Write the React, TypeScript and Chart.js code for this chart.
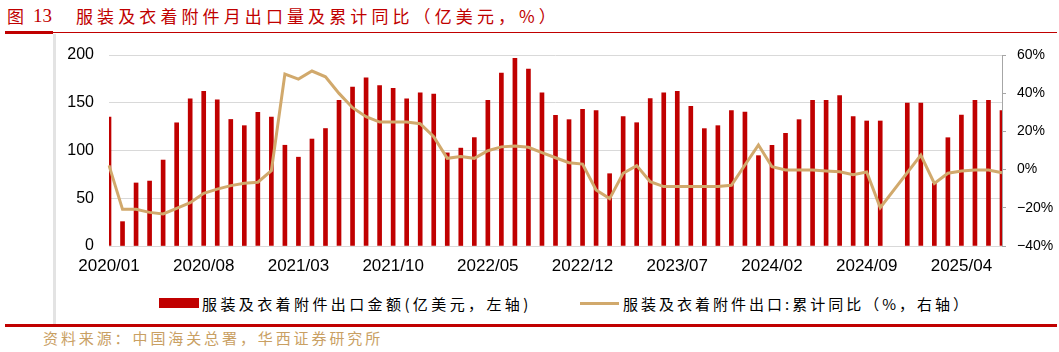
import React, { useEffect, useRef } from "react";
import { Chart, registerables } from "chart.js";

Chart.register(...registerables);

const months = [
  "2020/01","2020/02","2020/03","2020/04","2020/05","2020/06","2020/07","2020/08","2020/09","2020/10","2020/11","2020/12",
  "2021/01","2021/02","2021/03","2021/04","2021/05","2021/06","2021/07","2021/08","2021/09","2021/10","2021/11","2021/12",
  "2022/01","2022/02","2022/03","2022/04","2022/05","2022/06","2022/07","2022/08","2022/09","2022/10","2022/11","2022/12",
  "2023/01","2023/02","2023/03","2023/04","2023/05","2023/06","2023/07","2023/08","2023/09","2023/10","2023/11","2023/12",
  "2024/01","2024/02","2024/03","2024/04","2024/05","2024/06","2024/07","2024/08","2024/09","2024/10","2024/11","2024/12",
  "2025/01","2025/02","2025/03","2025/04","2025/05","2025/06","2025/07",
];

const xTickLabels = ["2020/01","2020/08","2021/03","2021/10","2022/05","2022/12","2023/07","2024/02","2024/09","2025/04"];

// 服装及衣着附件出口金额（亿美元）
const exportValues: (number | null)[] = [
  135, 25.5, 66, 68, 90, 129, 154, 162, 153, 132.5, 126, 140,
  135, 105.5, 93, 112, 123, 152.5, 166.5, 176, 168, 165, 154, 160.5,
  159, 97.5, 102.5, 113.5, 152.5, 181, 196.5, 185.3, 160.5, 136.8, 132.3, 143.1,
  141.7, 75.7, 135.4, 129.1, 154.3, 160.5, 162, 146.3, 122.9, 126, 141.7, 140.3,
  94.6, 105.4, 118, 132.3, 152.5, 152.5, 157.4, 135.4, 130.9, 130.9, null, 149.7,
  149.7, 65.6, 113.4, 137, 152.5, 152.5, 141.7,
];

// 服装及衣着附件出口：累计同比（%）
const cumulativeYoY: (number | null)[] = [
  2.2, -20.8, -20.8, -22.4, -23.2, -20.3, -17.3, -12.4, -10.2, -8.4, -7.2, -6.6,
  -0.6, 50, 47.4, 51.6, 48.6, 39.9, 32.4, 27.7, 24.9, 24.9, 24.9, 24,
  17.2, 5.9, 6.8, 5.9, 9.9, 11.9, 12.4, 11.7, 8.9, 6.2, 3.6, 2.9,
  -10.7, -15.2, -1.9, 2.1, -6.3, -8.9, -8.9, -8.9, -8.9, -8.9, -8.2, 2.4,
  12.9, 1.5, -0.2, -0.2, -0.2, -0.7, -1.1, -2.7, -1.3, -19.9, null, null,
  7.6, -7.2, -1.9, -0.7, -0.2, -0.2, -1.6,
];

const BAR_COLOR = "#C00000";
const LINE_COLOR = "#D1A96C";
const GRID_COLOR = "#D9D9D9";
const AXIS_COLOR = "#A6A6A6";
const CJK = '"Noto Sans CJK SC", "Noto Sans", sans-serif';

export default function App() {
  const canvasRef = useRef<HTMLCanvasElement | null>(null);

  useEffect(() => {
    if (!canvasRef.current) return;
    const chart = new Chart(canvasRef.current, {
      type: "bar",
      data: {
        labels: months,
        datasets: [
          {
            type: "line",
            label: "服装及衣着附件出口:累计同比（%，右轴）",
            data: cumulativeYoY,
            yAxisID: "y1",
            borderColor: LINE_COLOR,
            backgroundColor: LINE_COLOR,
            borderWidth: 3,
            pointRadius: 0,
            tension: 0,
            spanGaps: true,
            order: 0,
          } as any,
          {
            type: "bar",
            label: "服装及衣着附件出口金额(亿美元，左轴)",
            data: exportValues,
            yAxisID: "y",
            backgroundColor: BAR_COLOR,
            barThickness: 4,
            order: 1,
          },
        ],
      },
      options: {
        responsive: false,
        animation: false,
        layout: { padding: { top: 15, left: 0, right: 0, bottom: 0 } },
        plugins: { legend: { display: false }, tooltip: { enabled: false } },
        scales: {
          x: {
            offset: false,
            grid: { display: false, drawTicks: false },
            border: { display: true, color: GRID_COLOR },
            ticks: {
              autoSkip: false,
              maxRotation: 0,
              minRotation: 0,
              padding: 10,
              color: "#000",
              font: { size: 17, family: '"Liberation Sans", Arial, sans-serif' },
              callback: function (this: any, value: any) {
                const lab = this.getLabelForValue(value);
                return xTickLabels.includes(lab) ? lab : "";
              },
            },
            afterFit: (s: any) => {
              s.height = 34;
            },
          },
          y: {
            position: "left",
            min: 0,
            max: 200,
            ticks: {
              stepSize: 50,
              padding: 15,
              color: "#000",
              font: { size: 16, family: '"Liberation Sans", Arial, sans-serif' },
            },
            grid: { color: GRID_COLOR, lineWidth: 1, drawTicks: false },
            border: { display: false },
            afterFit: (s: any) => {
              s.width = 109;
              s.paddingTop = 0;
              s.paddingBottom = 0;
            },
          },
          y1: {
            position: "right",
            min: -40,
            max: 60,
            ticks: {
              stepSize: 20,
              padding: 11,
              color: "#000",
              font: { size: 14, family: '"Liberation Sans", Arial, sans-serif' },
              callback: (v: any) => (v < 0 ? "\u2212" + Math.abs(v) : String(v)) + "%",
            },
            grid: { drawOnChartArea: false, drawTicks: true, tickLength: 4, color: AXIS_COLOR },
            border: { display: true, color: AXIS_COLOR },
            afterFit: (s: any) => {
              s.width = 57;
              s.paddingTop = 0;
              s.paddingBottom = 0;
            },
          },
        },
      },
    });
    return () => chart.destroy();
  }, []);

  return (
    <div
      style={{
        position: "absolute",
        left: 0,
        top: 0,
        width: 1059,
        height: 352,
        overflow: "hidden",
        background: "#fff",
      }}
    >
      {/* title */}
      <div style={{ position: "absolute", left: 7, top: 5, height: 22, lineHeight: "22px", fontSize: 17, color: BAR_COLOR, fontFamily: CJK }}>
        图
      </div>
      <div style={{ position: "absolute", left: 33, top: 5, height: 22, lineHeight: "22px", fontSize: 19, color: BAR_COLOR, fontFamily: '"Liberation Serif", serif' }}>
        13
      </div>
      <div style={{ position: "absolute", left: 76, top: 5, height: 22, lineHeight: "22px", fontSize: 17, letterSpacing: 4.1, color: BAR_COLOR, fontFamily: CJK, whiteSpace: "nowrap" }}>
        服装及衣着附件月出口量及累计同比（亿美元，%）
      </div>
      <div style={{ position: "absolute", left: 5, top: 31, width: 48, height: 3, background: BAR_COLOR }} />
      <div style={{ position: "absolute", left: 53, top: 32, width: 1004, height: 1, background: BAR_COLOR }} />
      <div style={{ position: "absolute", left: 53, top: 34, width: 3, height: 290, background: "#E3E3E3" }} />

      <canvas ref={canvasRef} width={1059} height={240} style={{ position: "absolute", left: 0, top: 40, width: 1059, height: 240 }} />

      {/* legend */}
      <div style={{ position: "absolute", left: 159, top: 298, width: 40, height: 10, background: BAR_COLOR }} />
      <div style={{ position: "absolute", left: 202, top: 293, height: 21, lineHeight: "21px", fontSize: 15, letterSpacing: 3.4, color: "#000", fontFamily: CJK, whiteSpace: "nowrap" }}>
        服装及衣着附件出口金额(亿美元，左轴)
      </div>
      <div style={{ position: "absolute", left: 580, top: 302, width: 39, height: 3, background: LINE_COLOR }} />
      <div style={{ position: "absolute", left: 623, top: 293, height: 21, lineHeight: "21px", fontSize: 15, letterSpacing: 3.0, color: "#000", fontFamily: CJK, whiteSpace: "nowrap" }}>
        服装及衣着附件出口:累计同比（%，右轴）
      </div>

      {/* footer */}
      <div style={{ position: "absolute", left: 5, top: 324, width: 1052, height: 3, background: BAR_COLOR }} />
      <div style={{ position: "absolute", left: 43, top: 327, height: 21, lineHeight: "21px", fontSize: 15, letterSpacing: 2.9, color: "#C9A063", fontFamily: CJK, whiteSpace: "nowrap" }}>
        资料来源：中国海关总署，华西证券研究所
      </div>
    </div>
  );
}
